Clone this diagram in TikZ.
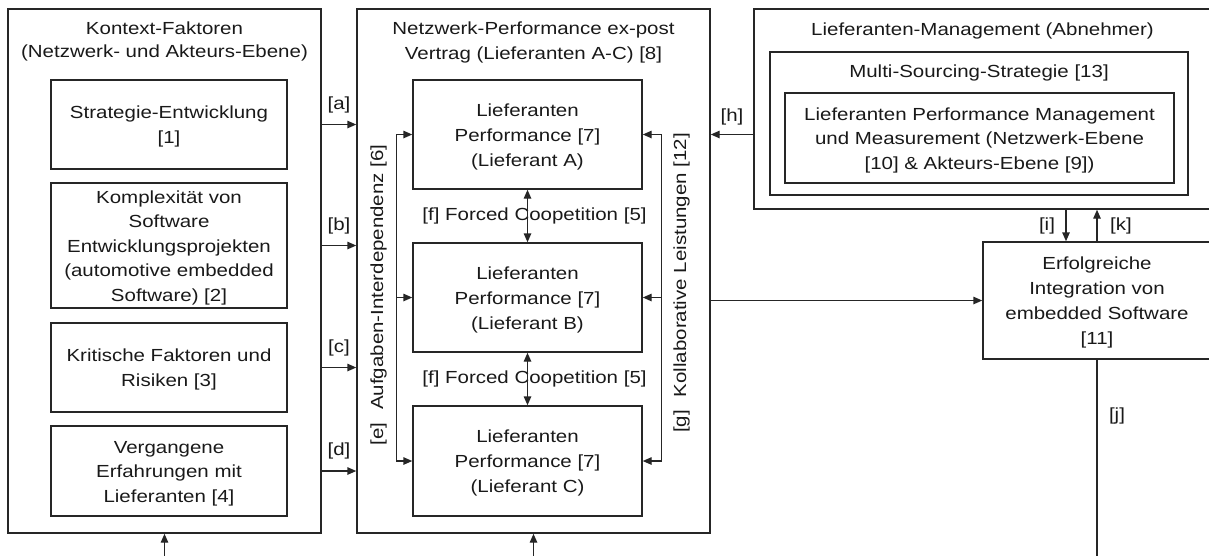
\documentclass[tikz,border=0pt]{standalone}
\usepackage{fontspec}
\setmainfont{Liberation Sans}[FakeStretch=1.17]
\usetikzlibrary{arrows.meta}

% struts that fix the height of the first line and the depth of the last one
\newcommand\strhi{\rule{0pt}{17pt}}
\newcommand\strlo{\rule[-4pt]{0pt}{4pt}}

\begin{document}
\begin{tikzpicture}[x=1pt,y=-1pt,
  every node/.style={font=\fontsize{17.5}{25}\selectfont, text=black!90},
  ln/.style={draw=black!85, line width=1.45pt},
  box/.style={ln, rectangle, inner sep=0pt, align=center},
  ttl/.style={inner sep=0pt, align=center},
  lbl/.style={inner sep=0pt},
  tip/.tip={Triangle[length=9pt,width=7.5pt]},
  arr/.style={ln, -tip},
  darr/.style={ln, tip-tip},
]
\useasboundingbox (0,0) rectangle (1209,555);
\clip (0,0) rectangle (1209,555);

% ---------------- context factors ----------------
\node[box, minimum width=313, minimum height=524] (ctx) at (164.5,271) {};
\node[ttl, font=\fontsize{17.5}{23}\selectfont] (ctxT) at (164.5,39)
  {\strhi Kontext-Faktoren\\(Netzwerk- und Akteurs-Ebene)\strlo};
\node[box, minimum width=236, minimum height=89] (s1) at (169,124.5)
  {\strhi Strategie-Entwicklung\\{}[1]\strlo};
\node[box, minimum width=236, minimum height=125, font=\fontsize{17.5}{24.5}\selectfont] (s2) at (169,245.5)
  {\strhi Komplexität von\\Software\\Entwicklungsprojekten\\(automotive embedded\\Software) [2]\strlo};
\node[box, minimum width=236, minimum height=89] (s3) at (169,367.5)
  {\strhi Kritische Faktoren und\\Risiken [3]\strlo};
\node[box, minimum width=236, minimum height=90, font=\fontsize{17.5}{24.5}\selectfont] (s4) at (169,471)
  {\strhi Vergangene\\Erfahrungen mit\\Lieferanten [4]\strlo};

% ---------------- network performance ----------------
\node[box, minimum width=353, minimum height=524] (net) at (533.5,271) {};
\node[ttl, font=\fontsize{17.5}{25.5}\selectfont] (netT) at (533.5,40.5)
  {\strhi Netzwerk-Performance ex-post\\Vertrag (Lieferanten A-C) [8]\strlo};
\node[box, minimum width=229, minimum height=109] (pA) at (527.5,134.5)
  {\strhi Lieferanten\\Performance [7]\\(Lieferant A)\strlo};
\node[box, minimum width=229, minimum height=109] (pB) at (527.5,297.5)
  {\strhi Lieferanten\\Performance [7]\\(Lieferant B)\strlo};
\node[box, minimum width=229, minimum height=110] (pC) at (527.5,461)
  {\strhi Lieferanten\\Performance [7]\\(Lieferant C)\strlo};

\node[lbl] (f1) at (534.5,216) {[f] Forced Coopetition [5]};
\node[lbl] (f2) at (534.5,379) {[f] Forced Coopetition [5]};
\draw[darr] (pA.south) -- (pB.north);
\draw[darr] (pB.south) -- (pC.north);

% task interdependence (left bracket)
\path (pA.west) ++(-16,0) coordinate (eA);
\draw[arr] (eA |- pC.west) -- (eA) -- (pA.west);
\draw[arr] (eA |- pB.west) -- (pB.west);
\draw[arr] (eA |- pC.west) -- (pC.west);
\node[lbl, rotate=90] (eT) at (378.5,295) {[e]\hspace{13pt}Aufgaben-Interdependenz [6]};

% collaborative services (right bracket)
\path (pA.east) ++(19,0) coordinate (gA);
\draw[arr] (gA |- pC.east) -- (gA) -- (pA.east);
\draw[arr] (gA |- pB.east) -- (pB.east);
\draw[arr] (gA |- pC.east) -- (pC.east);
\node[lbl, rotate=90] (gT) at (681.5,283) {[g]\hspace{13pt}Kollaborative Leistungen [12]};

% context factors -> network
\draw[arr] (s1.east -| ctx.east) -- (s1.east -| net.west) node[lbl, midway, yshift=20pt] {[a]};
\draw[arr] (s2.east -| ctx.east) -- (s2.east -| net.west) node[lbl, midway, yshift=20pt] {[b]};
\draw[arr] (s3.east -| ctx.east) -- (s3.east -| net.west) node[lbl, midway, yshift=20pt] {[c]};
\draw[arr] (s4.east -| ctx.east) -- (s4.east -| net.west) node[lbl, midway, yshift=20pt] {[d]};

% ---------------- supplier management ----------------
\node[box, minimum width=457, minimum height=200] (mgmt) at (982.5,109) {};
\node[ttl] (mgmtT) at (982.5,28.5) {\strhi Lieferanten-Management (Abnehmer)\strlo};
\node[box, minimum width=418, minimum height=143] (ms) at (979,123.5) {};
\node[ttl] (msT) at (979,70.5) {\strhi Multi-Sourcing-Strategie [13]\strlo};
\node[box, minimum width=389, minimum height=90, font=\fontsize{17.5}{24.5}\selectfont] (pm) at (979.5,138)
  {\strhi Lieferanten Performance Management\\und Measurement (Netzwerk-Ebene\\{}[10] \& Akteurs-Ebene [9])\strlo};

\draw[arr] (mgmt.west |- pA.east) -- (net.east |- pA.east) node[lbl, midway, yshift=18pt] {[h]};

% ---------------- successful integration ----------------
\node[box, minimum width=228, minimum height=117] (erf) at (1097,300.5)
  {\strhi Erfolgreiche\\Integration von\\embedded Software\\{}[11]\strlo};

\draw[arr] (net.east |- erf.west) -- (erf.west);
\draw[arr] ([xshift=-31pt]erf.north |- mgmt.south) -- ([xshift=-31pt]erf.north)
  node[lbl, midway, xshift=-19pt] {[i]};
\draw[arr] (erf.north) -- (erf.north |- mgmt.south)
  node[lbl, midway, xshift=24pt] {[k]};

% feedback lines leaving the lower edge
\coordinate (jEnd) at (erf.south |- 0,560);
\draw[ln] (erf.south) -- (jEnd);
\node[lbl] (jT) at (1117,416) {[j]};
\coordinate (fbL) at (ctx.south |- 0,560);
\draw[arr] (fbL) -- (ctx.south);
\coordinate (fbM) at (net.south |- 0,560);
\draw[arr] (fbM) -- (net.south);
\end{tikzpicture}
\end{document}
